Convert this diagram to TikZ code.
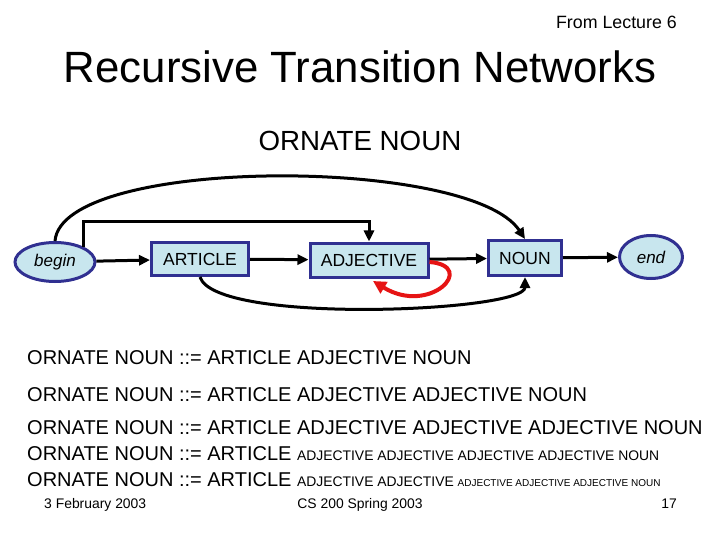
\documentclass[tikz,border=0pt]{standalone}
\usepackage{fontspec}
\setmainfont{Liberation Sans}
\usetikzlibrary{arrows.meta, positioning, shapes.geometric}
\definecolor{boxfill}{RGB}{200,230,238}
\definecolor{boxline}{RGB}{48,48,145}
\definecolor{loopred}{RGB}{230,20,20}
\newcommand{\fs}[1]{\fontsize{#1}{#1}\selectfont}

\begin{document}
\begin{tikzpicture}[x=1pt, y=-1pt,
  every node/.style={font=\fs{20}, inner sep=0pt},
  state/.style={ellipse, draw=boxline, fill=boxfill, line width=3pt, font=\fs{17}\itshape},
  cat/.style={rectangle, draw=boxline, fill=boxfill, line width=3pt, font=\fs{17.5}},
  link/.style={line width=3pt, -{Triangle[length=11pt, width=10pt]}},
  rule/.style={anchor=base west}]

  \useasboundingbox (0,0) rectangle (720,540);

  % headings
  \node[anchor=base east, font=\fs{17.8}] (lect) at (677,29) {From Lecture 6};
  \node[anchor=base, font=\fs{43.8}] (title) at (360,83) {Recursive Transition Networks};
  \node[anchor=base, font=\fs{27.7}] (sub) at (360,151) {ORNATE NOUN};

  % network
  \node[state, minimum width=80pt, minimum height=39pt] (begin) at (55,262) {begin};
  \node[cat, minimum width=97pt, minimum height=33pt] (art) at (200,259) {ARTICLE};
  \node[cat, minimum width=118pt, minimum height=34pt] (adj) at (369,260) {ADJECTIVE};
  \node[cat, minimum width=73pt, minimum height=35pt] (noun) at (525,258) {NOUN};
  \node[state, minimum width=63pt, minimum height=43pt] (end) at (651,257) {end};
  \coordinate (bend) at (369,222);

  \foreach \a/\b in {begin/art, art/adj, adj/noun, noun/end}
     \draw[link] (\a) -- (\b);
  \draw[link] (begin.28) |- (bend) -- (adj.north);
  \draw[link] (begin.north) .. controls (62,156) and (470,156) .. (noun.north);
  \draw[link] (art.south) .. controls (215,325) and (525,312) .. (noun.south);
  \draw[loopred, line width=4pt, -{Triangle[length=13pt, width=13pt]}]
     ([yshift=-2pt]adj.east) .. controls (478,266) and (430,316) .. (373,281);

  % rules
  \node[rule] (r1) at (27,364) {ORNATE NOUN ::= ARTICLE ADJECTIVE NOUN};
  \node[rule] (r2) at (27,401) {ORNATE NOUN ::= ARTICLE ADJECTIVE ADJECTIVE NOUN};
  \node[rule] (r3) at (27,434) {ORNATE NOUN ::= ARTICLE ADJECTIVE ADJECTIVE ADJECTIVE NOUN};
  \node[rule] (r4) at (27,460) {ORNATE NOUN ::= ARTICLE {\fs{13.9}ADJECTIVE ADJECTIVE ADJECTIVE ADJECTIVE NOUN}};
  \node[rule] (r5) at (27,486) {ORNATE NOUN ::= ARTICLE {\fs{13.9}ADJECTIVE ADJECTIVE }{\fs{10}ADJECTIVE ADJECTIVE ADJECTIVE NOUN}};

  % footer
  \node[anchor=base west, font=\fs{13.9}] (date) at (44,508) {3 February 2003};
  \node[anchor=base, font=\fs{13.9}] (course) at (360,508) {CS 200 Spring 2003};
  \node[anchor=base east, font=\fs{13.9}] (page) at (677,508) {17};
\end{tikzpicture}
\end{document}
